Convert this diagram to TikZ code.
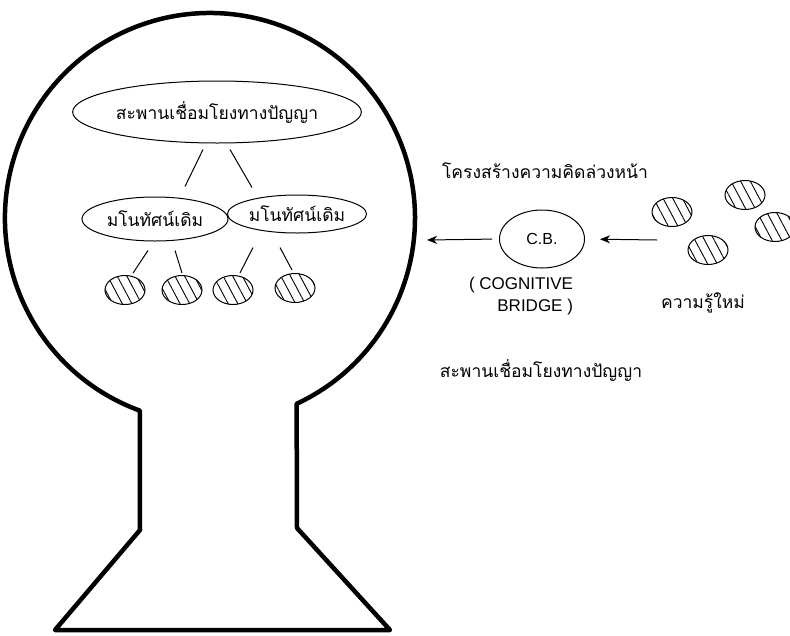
\documentclass[tikz,border=0pt]{standalone}
\usepackage{fontspec}
\setsansfont{Liberation Sans}
\newfontfamily\thaifont[Script=Thai]{Loma}
\usetikzlibrary{positioning,shapes.geometric,arrows.meta,patterns.meta}
\tikzset{
  th/.style={font=\thaifont\fontsize{17.5}{21}\selectfont},
  en/.style={font=\sffamily\fontsize{17}{22}\selectfont},
  ov/.style={ellipse, draw=black, line width=1pt, inner sep=1pt, th},
  hc/.style={ellipse, draw=black, line width=1pt, minimum width=40pt, minimum height=29pt, inner sep=0pt,
    pattern={Lines[angle=-62, distance=8.5pt, line width=0.9pt]}},
  ln/.style={line width=1pt},
  ar/.style={line width=1pt, -{Stealth[length=10pt, width=8pt, inset=3pt]}},
  node distance=7pt
}

\begin{document}
\begin{tikzpicture}[x=1pt, y=-1pt]
	\useasboundingbox (0,0) rectangle (790,635);
	% head outline
	\draw[line width=4.5pt, line join=round] (296.6,403.8) arc[start angle=65, end angle=-250, radius=205]
	  -- (140,530) -- (55,630) -- (390,630) -- (297,528) -- cycle;
	%
	\node[ov, minimum width=230pt, minimum height=62pt] (br) at (217,112) {สะพานเชื่อมโยงทางปัญญา};
	\node[ov, minimum width=146pt, minimum height=44pt] (c1) at (155,219) {มโนทัศน์เดิม};
	\node[ov, minimum width=130pt, minimum height=38pt] (c2) at (297,214) {มโนทัศน์เดิม};
	\node[hc] (h1) at (125,290) {};
	\node[hc] (h2) at (182,290) {};
	\node[hc] (h3) at (233,290) {};
	\node[hc] (h4) at (295,288) {};
	%
	\draw[ln] ([xshift=-14pt, yshift=-6pt]br.south) -- ([xshift=30pt, yshift=10pt]c1.north);
	\draw[ln] ([xshift=13pt, yshift=-6pt]br.south) -- ([xshift=-45pt, yshift=7pt]c2.north);
	\draw[ln] ([xshift=-7pt, yshift=-9pt]c1.south) -- ([xshift=8pt, yshift=2pt]h1.north);
	\draw[ln] ([xshift=20pt, yshift=-9pt]c1.south) -- ([yshift=2pt]h2.north);
	\draw[ln] ([xshift=-44pt, yshift=-14pt]c2.south) -- ([xshift=7pt, yshift=2pt]h3.north);
	\draw[ln] ([xshift=-17pt, yshift=-14pt]c2.south) -- ([xshift=-3pt, yshift=3pt]h4.north);
	%
	\node[ov, en, font=\sffamily\fontsize{16}{20}\selectfont, minimum width=85pt, minimum height=58pt] (cb) at (542,239) {C.B.};
	\node[en, align=right, below=8pt of cb, xshift=-21pt, inner sep=0pt] (cbname) {( COGNITIVE\\BRIDGE )};
	\node[th] (pre) at (545,171) {โครงสร้างความคิดล่วงหน้า};
	\node[th] (brtext) at (541,370) {สะพานเชื่อมโยงทางปัญญา};
	%
	\node[hc] (k1) at (672,212) {};
	\node[hc] (k2) at (745,195) {};
	\node[hc] (k3) at (775,227) {};
	\node[hc] (k4) at (708,250) {};
	\node[th] (nk) at (703,303) {ความรู้ใหม่};
	%
	\coordinate (into) at (427,240);
	\coordinate (from) at (657,240);
	\draw[ar, shorten <=7pt] (cb.west) -- (into);
	\draw[ar, shorten >=15pt] (from) -- (cb.east);
\end{tikzpicture}
\end{document}
